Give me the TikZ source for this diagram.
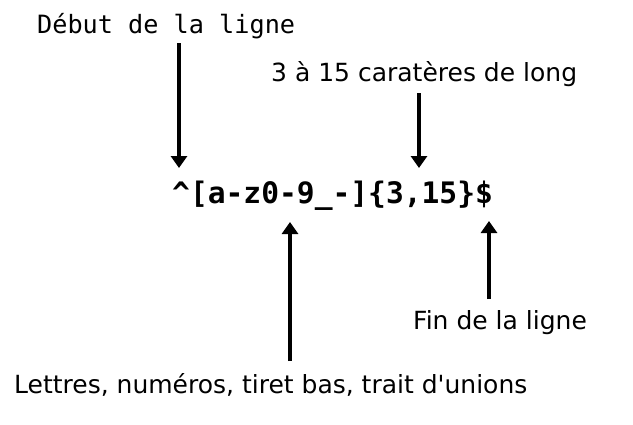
\documentclass[tikz,border=0pt]{standalone}
\usepackage{fontspec}
\setmainfont{DejaVu Sans}
\newfontfamily\monofont{DejaVu Sans Mono}
\usetikzlibrary{arrows.meta}
\tikzset{
  lbl/.style={inner sep=0pt, anchor=base west, font=\fontsize{25}{30}\selectfont},
  mlbl/.style={inner sep=0pt, anchor=base west, font=\monofont\fontsize{25.2}{30}\selectfont},
  regex/.style={inner sep=0pt, anchor=base west, font=\monofont\bfseries\fontsize{29.6}{34}\selectfont},
  arr/.style={line width=4.5pt, -{Triangle[length=12pt,width=16pt]}}
}
\begin{document}
\begin{tikzpicture}[x=1pt,y=-1pt]
\useasboundingbox (0,0) rectangle (633,424);
\node[mlbl] (debut) at (37,33) {Début de la ligne};
\node[lbl] (long) at (271,81) {3 à 15 caratères de long};
\node[regex] (re) at (172,203) {\^{}[a-z0-9\_-]\{3,15\}\$};
\node[lbl] (fin) at (413,329) {Fin de la ligne};
\node[lbl] (lettres) at (14,393) {Lettres, numéros, tiret bas, trait d\textquotesingle unions};
\coordinate (t1) at (179,168);
\coordinate (s1) at (179,43);
\coordinate (t2) at (419,168);
\coordinate (s2) at (419,93);
\coordinate (t3) at (290,222);
\coordinate (s3) at (290,361);
\coordinate (t4) at (489,221);
\coordinate (s4) at (489,299);
\draw[arr] (s1) -- (t1);
\draw[arr] (s2) -- (t2);
\draw[arr] (s3) -- (t3);
\draw[arr] (s4) -- (t4);
\end{tikzpicture}
\end{document}
